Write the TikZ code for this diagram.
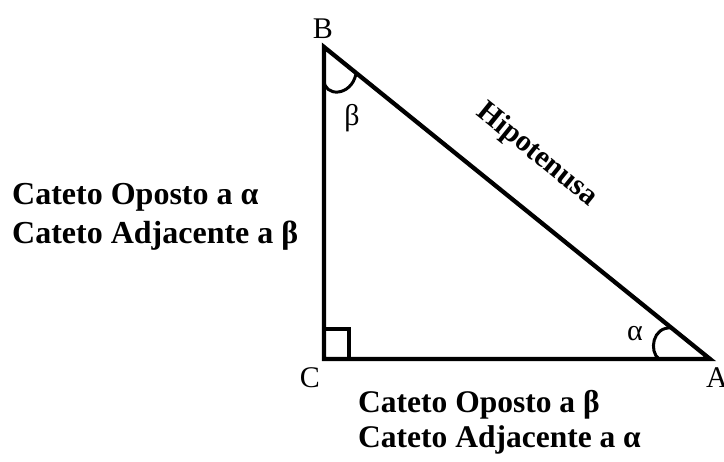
\documentclass[tikz,border=0pt]{standalone}
\usepackage{fontspec}
\setmainfont{Liberation Serif}
\begin{document}
\begin{tikzpicture}[x=1pt,y=-1pt,
  side/.style={line width=4.3pt,line join=miter},
  anglemark/.style={line width=3pt},
  vertexlbl/.style={font=\fontsize{30}{36}\selectfont,inner sep=0pt},
  greeklbl/.style={font=\fontsize{30}{36}\selectfont,inner sep=0pt},
  legend/.style={font=\fontsize{32}{38}\selectfont\bfseries,inner sep=0pt,anchor=base west},
  legendb/.style={font=\fontsize{31.5}{38}\selectfont\bfseries,inner sep=0pt,anchor=base west}]
\useasboundingbox (0,0) rectangle (724,462);
\coordinate (B) at (324,47);
\coordinate (C) at (324,359);
\coordinate (A) at (710,359);
\draw[side] (B) -- (C) -- (A) -- cycle;
% right angle
\coordinate (r1) at (324,329);
\coordinate (r2) at (349,329);
\coordinate (r3) at (349,359);
\draw[line width=4pt] (r1) -- (r2) -- (r3);
% beta arc
\coordinate (b1) at (324,80);
\coordinate (b2) at (356,74);
\draw[anglemark] (b1) .. controls (324,97) and (351,97) .. (b2);
% alpha arc
\coordinate (a1) at (659,359);
\coordinate (a2) at (672,328);
\draw[anglemark] (a1) .. controls (649,352) and (652,326) .. (a2);
% labels
\node[vertexlbl] (lB) at (323,29) {B};
\node[vertexlbl] (lC) at (310,378) {C};
\node[vertexlbl,anchor=west] (lA) at (706,378) {A};
\node[greeklbl] (lbeta) at (352,118) {β};
\node[greeklbl] (lalpha) at (635,334) {α};
\node[font=\fontsize{30}{36}\selectfont\bfseries,inner sep=0pt,rotate=-39] (hyp) at (537,155) {Hipotenusa};
\node[legend] (l1) at (12,205) {Cateto Oposto a α};
\node[legend] (l2) at (12,244) {Cateto Adjacente a β};
\node[legendb] (l3) at (358,413) {Cateto Oposto a β};
\node[legendb] (l4) at (358,448) {Cateto Adjacente a α};
\end{tikzpicture}
\end{document}
